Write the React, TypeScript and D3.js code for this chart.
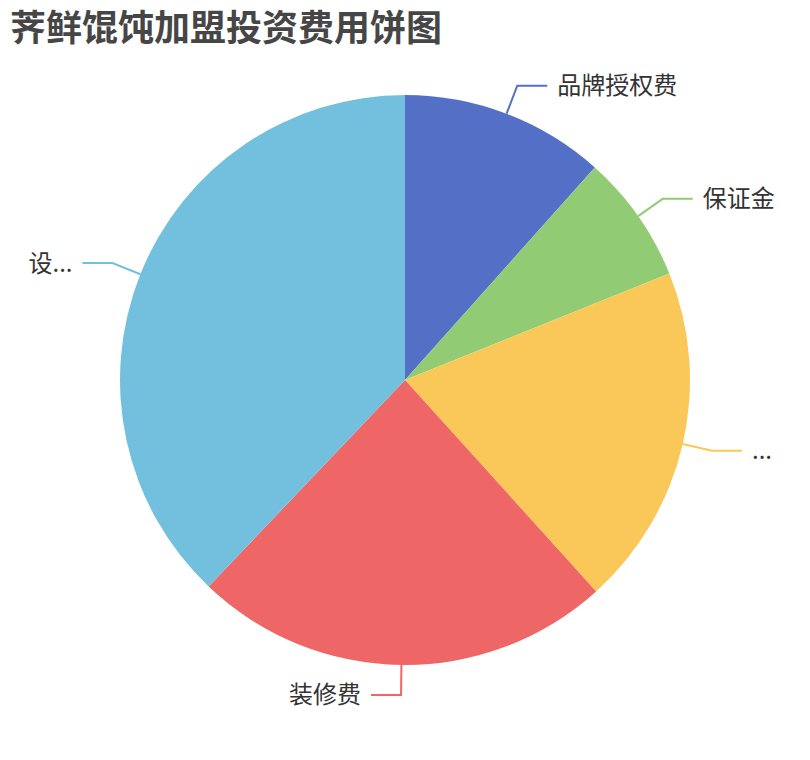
import * as d3 from 'd3';

const title = '荠鲜馄饨加盟投资费用饼图';
const categories = ['品牌授权费', '保证金', '...', '装修费', '设...'];
const values = [11.6, 7.3, 19.4, 23.8, 37.9];
const colors = ['#5470c6', '#91cc75', '#fac858', '#ee6666', '#73c0de'];

const width = 810;
const height = 760;

export default function App() {
  const cx = width / 2;
  const cy = height / 2;
  const radius = Math.min(width, height) / 2 * 0.75;
  const len1 = 30;
  const len2 = 30;

  const pie = d3.pie<number>().sort(null).value((d) => d);
  const arcs = pie(values);
  const arc = d3.arc<d3.PieArcDatum<number>>().innerRadius(0).outerRadius(radius);

  return (
    <svg
      width={width}
      height={height}
      style={{ position: 'absolute', top: 0, left: 0, display: 'block', background: '#fff' }}
      fontFamily="'Noto Sans CJK SC', 'Noto Sans', sans-serif"
    >
      <text x={10} y={25} fontSize={36} fontWeight="bold" fill="#464646" dominantBaseline="central">
        {title}
      </text>
      <g transform={`translate(${cx},${cy})`}>
        {arcs.map((a, i) => (
          <path key={i} d={arc(a) || ''} fill={colors[i]} />
        ))}
        {arcs.map((a, i) => {
          // label line: radial segment then horizontal segment
          const mid = (a.startAngle + a.endAngle) / 2;
          const sx = Math.sin(mid);
          const sy = -Math.cos(mid);
          const p0 = [sx * radius, sy * radius];
          const p1 = [sx * (radius + len1), sy * (radius + len1)];
          const right = sx >= 0;
          const p2 = [p1[0] + (right ? len2 : -len2), p1[1]];
          const tx = p2[0] + (right ? 10 : -10);
          return (
            <g key={i}>
              <polyline
                points={[p0, p1, p2].map((p) => p.join(',')).join(' ')}
                fill="none"
                stroke={colors[i]}
                strokeWidth={2}
              />
              <text
                x={tx}
                y={p2[1] - 2}
                fontSize={24}
                fill="#333"
                textAnchor={right ? 'start' : 'end'}
                dominantBaseline="central"
              >
                {categories[i]}
              </text>
            </g>
          );
        })}
      </g>
    </svg>
  );
}
